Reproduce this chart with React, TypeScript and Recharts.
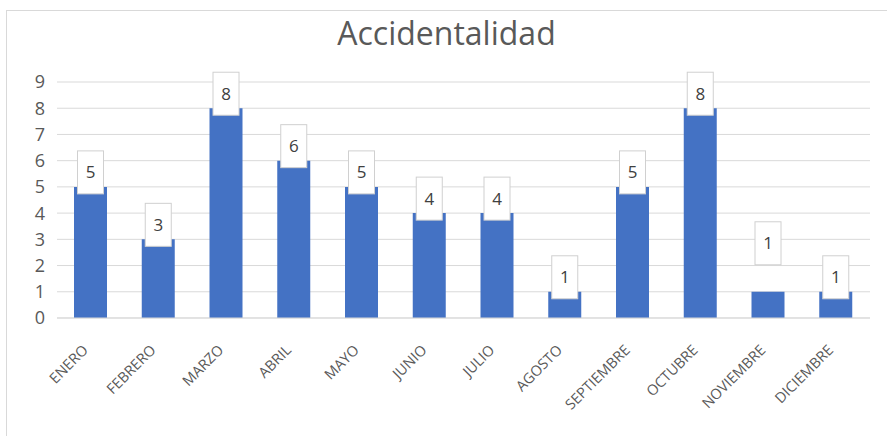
import React from "react";
import { BarChart, Bar, XAxis, YAxis, CartesianGrid, LabelList } from "recharts";

const months = ["ENERO", "FEBRERO", "MARZO", "ABRIL", "MAYO", "JUNIO", "JULIO", "AGOSTO", "SEPTIEMBRE", "OCTUBRE", "NOVIEMBRE", "DICIEMBRE"];
const accidents = [5, 3, 8, 6, 5, 4, 4, 1, 5, 8, 1, 1];
const yTicks = [0, 1, 2, 3, 4, 5, 6, 7, 8, 9];
const title = "Accidentalidad";

const data = months.map((m, i) => ({ month: m, value: accidents[i] }));

const FONT = "'Open Sans', 'Noto Sans', sans-serif";

const XTick = (props: any) => {
  const { x, y, payload } = props;
  return (
    <g transform={`translate(${x - 2},${y + 25})`}>
      <text
        x={0}
        y={0}
        transform="rotate(-45)"
        textAnchor="end"
        fill="#595959"
        fontSize={14.5}
        fontFamily={FONT}
      >
        {payload.value}
      </text>
    </g>
  );
};

const BoxLabel = (props: any) => {
  const { x, y, width, value, index } = props;
  const cx = x + width / 2;
  const bw = 26;
  const bh = 43;
  const shift = index === 10 ? 34 : 0;
  const top = y - 36 - shift;
  return (
    <g>
      <rect x={cx - bw / 2} y={top} width={bw} height={bh} fill="#ffffff" stroke="#d0d0d0" strokeWidth={1} />
      <text
        x={cx}
        y={top + bh / 2 + 6}
        textAnchor="middle"
        fill="#404040"
        fontSize={17}
        fontFamily={FONT}
      >
        {value}
      </text>
    </g>
  );
};

export default function App() {
  return (
    <div style={{ position: "absolute", left: 0, top: 0, width: 887, height: 436, background: "#fff" }}>
      <div
        style={{
          position: "absolute",
          left: 6,
          top: 10,
          width: 900,
          height: 440,
          borderLeft: "1px solid #d9d9d9",
          borderTop: "1px solid #d9d9d9",
        }}
      />
      <div
        style={{
          position: "absolute",
          left: 0,
          top: 13,
          width: 893,
          textAlign: "center",
          fontFamily: FONT,
          fontSize: 32,
          color: "#595959",
          lineHeight: "40px",
        }}
      >
        {title}
      </div>
      <div style={{ position: "absolute", left: 0, top: 0 }}>
        <BarChart width={887} height={436} data={data} margin={{ top: 82, right: 17, bottom: 0, left: 0 }}>
          <CartesianGrid vertical={false} stroke="#d9d9d9" />
          <XAxis
            dataKey="month"
            height={118}
            interval={0}
            tickLine={false}
            axisLine={{ stroke: "#d9d9d9" }}
            tick={<XTick />}
          />
          <YAxis
            width={57}
            domain={[0, 9]}
            ticks={yTicks}
            interval={0}
            tickLine={false}
            axisLine={false}
            tickMargin={6}
            tick={{ fill: "#595959", fontSize: 18, fontFamily: FONT }}
          />
          <Bar dataKey="value" fill="#4472C4" barSize={33} isAnimationActive={false}>
            <LabelList dataKey="value" content={<BoxLabel />} />
          </Bar>
        </BarChart>
      </div>
    </div>
  );
}
